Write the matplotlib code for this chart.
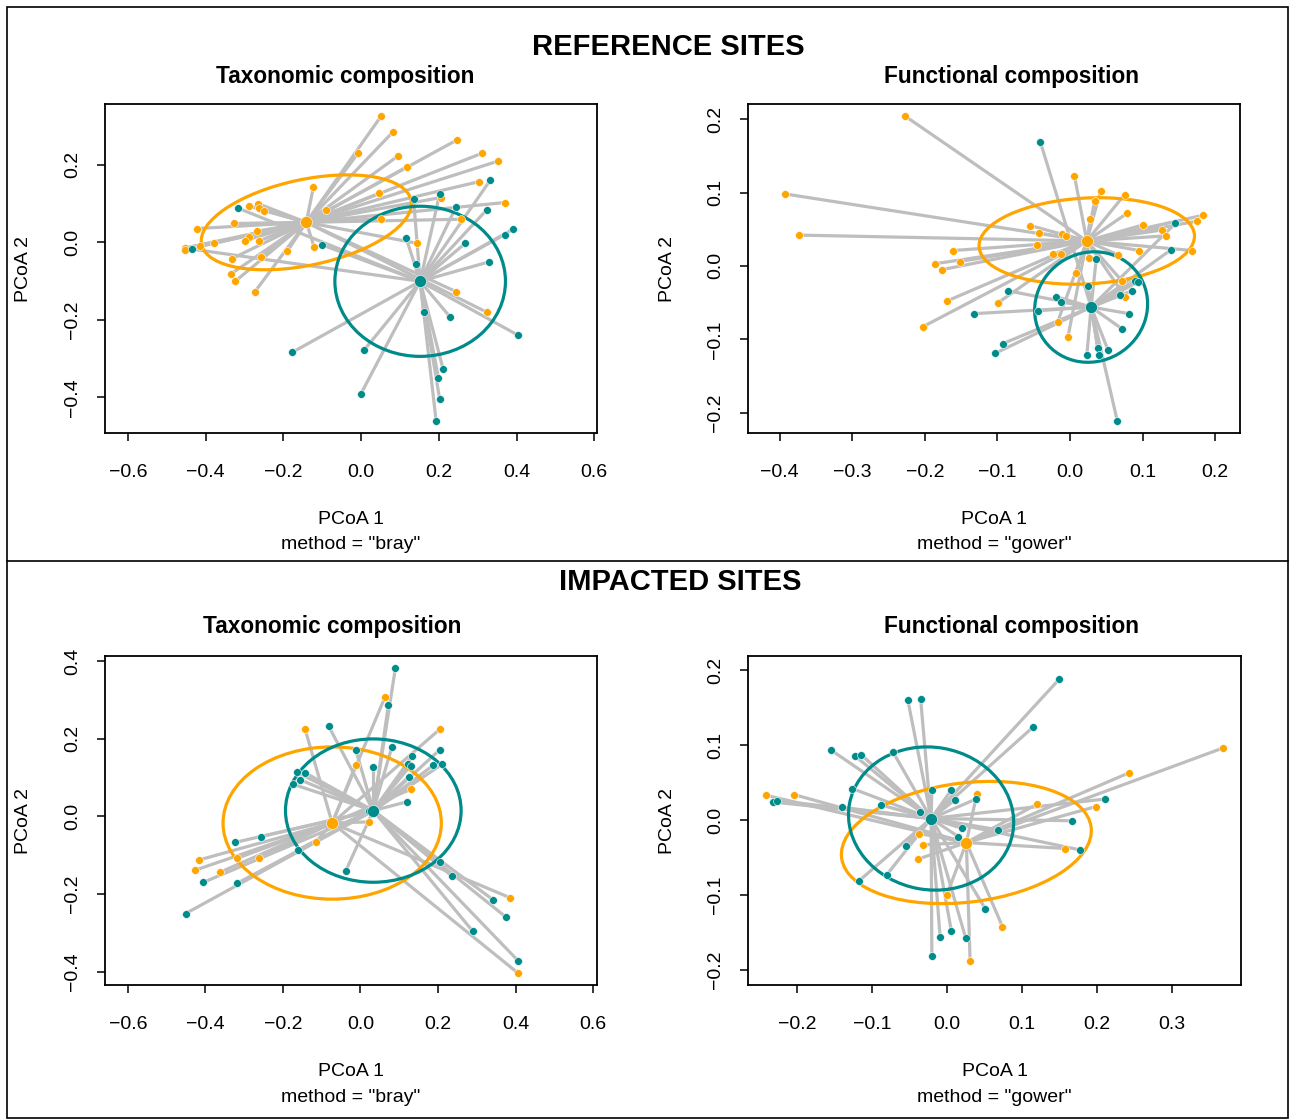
import matplotlib.pyplot as plt
from matplotlib.patches import Ellipse, Rectangle
from matplotlib.lines import Line2D
from matplotlib.ticker import FuncFormatter

plt.rcParams['font.family'] = ['Liberation Sans', 'DejaVu Sans']

W, H = 1290, 1120
ORANGE = "#FFA500"
TEAL = "#008B8B"
GREY = "#BEBEBE"

# ---------------- reference sites, taxonomic (bray) ----------------
ref_tax_or_x = [-0.123, -0.091, -0.288, -0.265, -0.262, -0.249, -0.327, -0.422, -0.268, -0.288,
                -0.300, -0.263, -0.378, -0.415, -0.453, -0.453, -0.121, -0.190, -0.258, -0.333,
                -0.335, -0.324, -0.274, 0.051, 0.083, -0.008, 0.095, 0.118, 0.246, 0.311,
                0.353, 0.304, 0.205, 0.369, 0.047, 0.051, 0.258, 0.144, 0.245, 0.324]
ref_tax_or_y = [0.141, 0.084, 0.093, 0.099, 0.089, 0.081, 0.048, 0.035, 0.028, 0.014,
                0.004, 0.003, -0.003, -0.010, -0.015, -0.020, -0.012, -0.024, -0.039, -0.043,
                -0.082, -0.101, -0.129, 0.324, 0.285, 0.229, 0.222, 0.194, 0.263, 0.229,
                0.209, 0.156, 0.115, 0.102, 0.126, 0.060, 0.059, -0.003, -0.128, -0.181]
ref_tax_tl_x = [-0.318, -0.436, -0.101, -0.177, 0.332, 0.202, 0.135, 0.244, 0.324, 0.392,
                0.369, 0.116, 0.268, 0.142, 0.329, 0.161, 0.229, 0.404, 0.008, -0.001,
                0.211, 0.199, 0.202, 0.193]
ref_tax_tl_y = [0.088, -0.018, -0.007, -0.284, 0.159, 0.124, 0.111, 0.090, 0.084, 0.034,
                0.019, 0.010, -0.003, -0.056, -0.051, -0.180, -0.193, -0.240, -0.278, -0.392,
                -0.327, -0.350, -0.404, -0.461]
ref_tax_or_cent = (-0.141, 0.051)
ref_tax_tl_cent = (0.152, -0.101)
ref_tax_or_ell = (0.551, 0.221, 12)   # width, height, angle
ref_tax_tl_ell = (0.439, 0.387, 0)

# ---------------- reference sites, functional (gower) ----------------
ref_fun_or_x = [-0.227, -0.392, -0.373, -0.161, -0.186, -0.152, -0.176, -0.170, -0.203,
                0.006, 0.042, 0.075, 0.034, 0.079, 0.028, 0.183, 0.175, 0.101, 0.127, 0.132,
                -0.055, -0.043, -0.011, -0.006, -0.046, 0.168, 0.095, -0.023, -0.013, 0.066,
                0.026, 0.008, 0.072, 0.076, -0.099, -0.017, -0.003]
ref_fun_or_y = [0.204, 0.098, 0.042, 0.021, 0.003, 0.006, -0.005, -0.048, -0.083,
                0.123, 0.102, 0.097, 0.089, 0.072, 0.064, 0.069, 0.061, 0.056, 0.049, 0.041,
                0.055, 0.045, 0.043, 0.041, 0.029, 0.021, 0.021, 0.016, 0.016, 0.015,
                0.011, -0.010, -0.021, -0.042, -0.050, -0.076, -0.097]
ref_fun_tl_x = [-0.132, -0.093, -0.103, -0.041, 0.145, 0.139, 0.036, 0.025, 0.089, 0.093,
                0.085, 0.069, -0.085, -0.019, -0.013, -0.044, 0.081, 0.072, 0.038, 0.052,
                0.023, 0.040, 0.065]
ref_fun_tl_y = [-0.065, -0.106, -0.119, 0.169, 0.058, 0.022, 0.009, -0.027, -0.020, -0.022,
                -0.034, -0.039, -0.034, -0.042, -0.049, -0.061, -0.065, -0.086, -0.112, -0.114,
                -0.122, -0.121, -0.211]
ref_fun_or_cent = (0.023, 0.034)
ref_fun_tl_cent = (0.029, -0.056)
ref_fun_or_ell = (0.297, 0.117, 3)
ref_fun_tl_ell = (0.158, 0.148, 30)

# ---------------- impacted sites, taxonomic (bray) ----------------
imp_tax_or_x = [-0.143, -0.116, -0.416, -0.428, -0.363, -0.263, -0.319, 0.063, 0.204, -0.012,
                0.130, 0.022, 0.385, 0.406]
imp_tax_or_y = [0.225, -0.067, -0.112, -0.139, -0.144, -0.108, -0.108, 0.307, 0.224, 0.133,
                0.070, -0.014, -0.209, -0.403]
imp_tax_tl_x = [-0.082, -0.142, -0.165, -0.157, -0.175, -0.256, -0.324, -0.161, -0.406, -0.318,
                -0.451, -0.038, 0.090, 0.072, -0.012, 0.081, 0.033, 0.134, 0.123, 0.129,
                0.204, 0.188, 0.210, 0.124, 0.121, 0.023, 0.205, 0.235, 0.341, 0.375,
                0.289, 0.406]
imp_tax_tl_y = [0.232, 0.112, 0.114, 0.095, 0.083, -0.052, -0.067, -0.086, -0.170, -0.172,
                -0.250, -0.140, 0.382, 0.288, 0.171, 0.179, 0.128, 0.156, 0.134, 0.131,
                0.171, 0.132, 0.134, 0.102, 0.038, 0.013, -0.118, -0.153, -0.214, -0.259,
                -0.295, -0.371]
imp_tax_or_cent = (-0.073, -0.017)
imp_tax_tl_cent = (0.033, 0.015)
imp_tax_or_ell = (0.563, 0.392, 0)
imp_tax_tl_ell = (0.453, 0.369, 0)

# ---------------- impacted sites, functional (gower) ----------------
imp_fun_or_x = [-0.241, -0.204, 0.040, -0.037, -0.032, -0.038, 0.000, 0.031, 0.368, 0.243,
                0.199, 0.120, 0.158, 0.074]
imp_fun_or_y = [0.033, 0.034, 0.035, -0.018, -0.033, -0.052, -0.100, -0.188, 0.096, 0.063,
                0.018, 0.021, -0.038, -0.142]
imp_fun_tl_x = [-0.052, -0.035, -0.154, -0.123, -0.114, -0.072, -0.126, -0.232, -0.226, -0.140,
                -0.088, -0.020, 0.006, 0.011, 0.039, -0.036, 0.020, 0.015, -0.055, -0.080,
                -0.117, 0.051, -0.009, 0.006, 0.025, -0.020, 0.150, 0.115, 0.211, 0.167,
                0.068, 0.178]
imp_fun_tl_y = [0.160, 0.162, 0.093, 0.086, 0.087, 0.091, 0.042, 0.024, 0.026, 0.017,
                0.020, 0.040, 0.040, 0.027, 0.028, 0.011, -0.011, -0.022, -0.034, -0.073,
                -0.081, -0.118, -0.156, -0.148, -0.157, -0.181, 0.188, 0.124, 0.028, -0.001,
                -0.013, -0.040]
imp_fun_or_cent = (0.026, -0.030)
imp_fun_tl_cent = (-0.021, 0.002)
imp_fun_or_ell = (0.335, 0.159, 7)
imp_fun_tl_ell = (0.221, 0.190, -10)


def fx(x):
    return x / W


def fy(y):
    return 1 - y / H


minus_fmt = FuncFormatter(lambda v, p: f"{v:.1f}".replace("-", "\u2212"))


def draw_panel(fig, box, xlim, ylim, xticks, yticks, groups, method):
    left, top, right, bottom = box
    ax = fig.add_axes([fx(left), fy(bottom), fx(right - left), (bottom - top) / H])

    # segments to centroids, then ellipses, points, centroids
    for xs, ys, cent, ell, col in groups:
        for x, y in zip(xs, ys):
            ax.plot([x, cent[0]], [y, cent[1]], color=GREY, lw=2.3, zorder=1,
                    solid_capstyle="butt")
    for xs, ys, cent, ell, col in groups:
        ax.add_patch(Ellipse(cent, ell[0], ell[1], angle=ell[2], fill=False,
                             edgecolor=col, lw=2.3, zorder=2))
    for xs, ys, cent, ell, col in groups:
        ax.scatter(xs, ys, s=32, color=col, edgecolors="white", linewidths=0.4, zorder=3)
    for xs, ys, cent, ell, col in groups:
        ax.scatter([cent[0]], [cent[1]], s=75, color=col, edgecolors="white",
                   linewidths=0.4, zorder=4)

    ax.set_xlim(xlim)
    ax.set_ylim(ylim)
    ax.set_xticks(xticks)
    ax.set_yticks(yticks)
    ax.xaxis.set_major_formatter(minus_fmt)
    ax.yaxis.set_major_formatter(minus_fmt)
    ax.tick_params(direction="out", length=6, width=1.1, labelsize=14, colors="black")
    ax.tick_params(axis="x", pad=16)
    ax.tick_params(axis="y", pad=11, labelrotation=90)
    for lab in ax.get_yticklabels():
        lab.set_va("center")
    for s in ax.spines.values():
        s.set_linewidth(1.3)

    cx = (left + right) / 2
    cy = (top + bottom) / 2
    fig.text(fx(cx), fy(bottom + 87), "PCoA 1", ha="center", va="center", fontsize=14)
    fig.text(fx(cx), fy(bottom + 112), f'method = "{method}"', ha="center", va="center",
             fontsize=14)
    fig.text(fx(left - 81), fy(cy), "PCoA 2", ha="center", va="center", rotation=90,
             fontsize=14)
    return ax


fig = plt.figure(figsize=(W / 100, H / 100), dpi=100)

draw_panel(fig, (105, 104, 597, 433), (-0.659, 0.607), (-0.492, 0.356),
           [-0.6, -0.4, -0.2, 0.0, 0.2, 0.4, 0.6], [-0.4, -0.2, 0.0, 0.2],
           [(ref_tax_or_x, ref_tax_or_y, ref_tax_or_cent, ref_tax_or_ell, ORANGE),
            (ref_tax_tl_x, ref_tax_tl_y, ref_tax_tl_cent, ref_tax_tl_ell, TEAL)],
           "bray")
draw_panel(fig, (748, 104, 1240, 433), (-0.4435, 0.234), (-0.2276, 0.2206),
           [-0.4, -0.3, -0.2, -0.1, 0.0, 0.1, 0.2], [-0.2, -0.1, 0.0, 0.1, 0.2],
           [(ref_fun_or_x, ref_fun_or_y, ref_fun_or_cent, ref_fun_or_ell, ORANGE),
            (ref_fun_tl_x, ref_fun_tl_y, ref_fun_tl_cent, ref_fun_tl_ell, TEAL)],
           "gower")
draw_panel(fig, (105, 656, 597, 985), (-0.659, 0.610), (-0.434, 0.413),
           [-0.6, -0.4, -0.2, 0.0, 0.2, 0.4, 0.6], [-0.4, -0.2, 0.0, 0.2, 0.4],
           [(imp_tax_or_x, imp_tax_or_y, imp_tax_or_cent, imp_tax_or_ell, ORANGE),
            (imp_tax_tl_x, imp_tax_tl_y, imp_tax_tl_cent, imp_tax_tl_ell, TEAL)],
           "bray")
draw_panel(fig, (748, 656, 1241, 985), (-0.265, 0.392), (-0.22, 0.2187),
           [-0.2, -0.1, 0.0, 0.1, 0.2, 0.3], [-0.2, -0.1, 0.0, 0.1, 0.2],
           [(imp_fun_or_x, imp_fun_or_y, imp_fun_or_cent, imp_fun_or_ell, ORANGE),
            (imp_fun_tl_x, imp_fun_tl_y, imp_fun_tl_cent, imp_fun_tl_ell, TEAL)],
           "gower")

# titles
fig.text(fx(668), fy(47), "REFERENCE SITES", ha="center", va="center", fontsize=21,
         fontweight="bold")
fig.text(fx(680), fy(582), "IMPACTED SITES", ha="center", va="center", fontsize=21,
         fontweight="bold")
fig.text(fx(345), fy(77), "Taxonomic composition", ha="center", va="center", fontsize=16.3,
         fontweight="bold")
fig.text(fx(1012), fy(77), "Functional composition", ha="center", va="center", fontsize=16.3,
         fontweight="bold")
fig.text(fx(332), fy(626), "Taxonomic composition", ha="center", va="center", fontsize=16.3,
         fontweight="bold")
fig.text(fx(1012), fy(626), "Functional composition", ha="center", va="center", fontsize=16.3,
         fontweight="bold")

# outer frame and divider
fig.add_artist(Rectangle((fx(7), fy(1118)), fx(1281), (1118 - 7) / H, fill=False,
                         edgecolor="black", lw=1.2, transform=fig.transFigure))
fig.add_artist(Line2D([fx(7), fx(1288)], [fy(561), fy(561)], color="black", lw=1.2,
                      transform=fig.transFigure))

fig.savefig("out.png", dpi=100)
